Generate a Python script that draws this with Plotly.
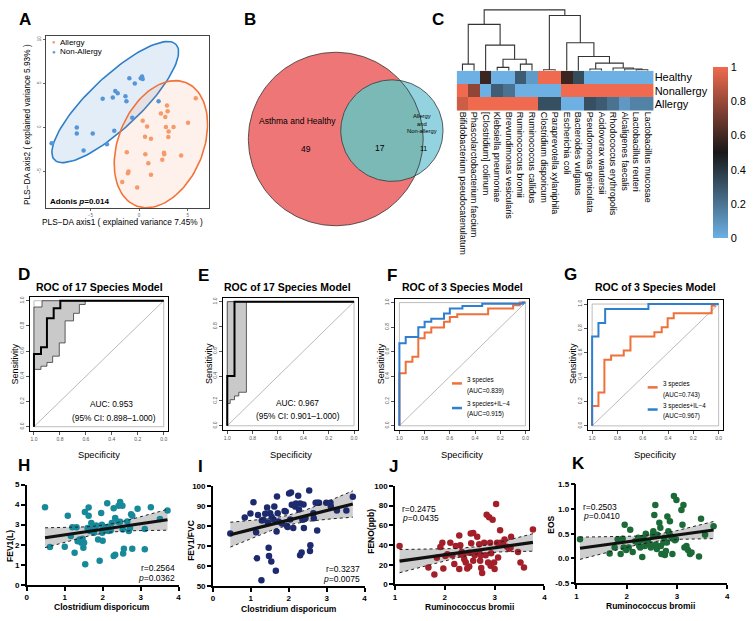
import numpy as np
import plotly.graph_objects as go

W, H = 753, 621
FONT = "Liberation Sans, Arial, Helvetica, sans-serif"

# ---------------- Panel A: PLS-DA scores ----------------
allergy_x = [5.82, 2.86, 2.93, 2.24, 2.69, 0.37, 0.82, 2.76, 3.54, 3.03, 0.61, 1.22, 3.00, 5.03,
             -1.26, 0.64, 2.55, 2.58, 2.38, 4.32, 0.95, -1.09, -1.15, 1.22, -1.73, -0.20]
allergy_y = [3.33, 2.50, 1.85, 1.60, 1.19, 0.78, 0.11, 0.07, 0.07, -0.44, -1.04, -1.26, -1.07, 0.55,
             -2.80, -3.04, -2.85, -3.04, -3.67, -3.19, -4.07, -5.00, -5.19, -5.37, -6.19, -6.81]
nonallergy_x = [-8.98, -6.40, -6.40, -5.70, -4.76, -3.74, -3.30, -2.70, -2.55, -2.45, -2.20, -1.40,
                -1.30, -1.00, -0.70, -0.44, 0.17, 0.30, 0.37, 2.00]
nonallergy_y = [-1.78, 0.00, -0.67, -2.60, -0.67, 3.26, -1.90, 3.40, -0.37, 4.15, 3.90, 3.55,
                3.00, 5.60, 1.10, 5.00, 5.60, 5.80, 5.50, 3.00]
ellipse_groups = ["Non-Allergy", "Allergy"]
ellipse_center = [(-2.45, 2.89), (2.24, -1.89)]
ellipse_major = [(6.24, 6.56), (2.55, 7.00)]
ellipse_minor = [(1.84, -2.08), (4.06, -1.76)]

# ---------------- Panel B: Venn ----------------
venn_sets = ["Asthma and Healthy", "Allergy<br>and<br>Non-allergy"]
venn_counts = [49, 17, 11]

# ---------------- Panel C: heatmap ----------------
species = ["Bifidobacterium pseudocatenulatum", "Phascolarctobacterium faecium", "[Clostridium] colinum",
           "Klebsiella pneumoniae", "Brevundimonas vesicularis", "Ruminococcus bromii",
           "Ruminococcus callidus", "Clostridium disporicum", "Paraprevotella xylaniphila",
           "Escherichia coli", "Bacteroides vulgatus", "Pseudomonas geniculata", "Acidovorax wautersii",
           "Rhodococcus erythropolis", "Alcaligenes faecalis", "Lactobacillus reuteri",
           "Lactobacillus mucosae"]
groups = ["Healthy", "Nonallergy", "Allergy"]
heat_healthy = [0, 0, 0.58, 0, 0, 0.28, 0.07, 1, 1, 0.58, 0.33, 0, 0, 0, 0, 0, 0]
heat_nonallergy = [1, 0.78, 0, 0.27, 0.2, 0, 0, 0, 0, 1, 1, 1, 1, 1, 1, 1, 1]
heat_allergy = [0.92, 1, 1, 1, 1, 1, 1, 0.32, 0.32, 0, 0, 0.32, 0.28, 0.2, 0.08, 0.15, 0.15]
# hierarchical clustering of columns: (child a, child b, height); new cluster ids start at 17
dendro_merges = [
    (0, 1, 6.7), (3, 4, 3.4), (5, 6, 6.7), (18, 19, 11.7), (2, 20, 26.0), (17, 21, 47.0),
    (7, 8, 1.0), (15, 16, 1.0), (14, 24, 1.7), (13, 25, 2.7), (11, 12, 1.7), (27, 26, 7.7),
    (10, 28, 14.4), (9, 29, 28.4), (23, 30, 56.0), (22, 31, 61.7),
]

# ---------------- Panels D-G: ROC curves (specificity, sensitivity) ----------------
roc_d_spec = [1, 1, 0.946, 0.90, 0.848, 0.797, 0]
roc_d_sens = [0, 0.578, 0.63, 0.86, 0.94, 1.0, 1.0]
roc_d_hi_spec = [1, 1, 0.938, 0]
roc_d_hi_sens = [0, 0.95, 1.0, 1.0]
roc_d_lo_spec = [1, 1, 0.946, 0.90, 0.856, 0.805, 0.76, 0.695, 0.65, 0.605, 0]
roc_d_lo_sens = [0, 0.455, 0.48, 0.51, 0.56, 0.665, 0.84, 0.90, 0.97, 1.0, 1.0]

roc_e_spec = [1, 1, 0.943, 0]
roc_e_sens = [0, 0.40, 1.0, 1.0]
roc_e_hi_spec = [1, 1, 0]
roc_e_hi_sens = [0, 1.0, 1.0]
roc_e_lo_spec = [1, 1, 0.977, 0.943, 0.909, 0.849, 0.849, 0]
roc_e_lo_sens = [0, 0.18, 0.21, 0.24, 0.27, 0.29, 1.0, 1.0]

roc_f_sp_spec = [1, 1, 0.95, 0.897, 0.85, 0.80, 0.747, 0.646, 0.6, 0.541, 0.296, 0.098, 0.045, 0]
roc_f_sp_sens = [0, 0.427, 0.52, 0.56, 0.71, 0.758, 0.798, 0.844, 0.884, 0.906, 0.952, 0.978, 1.0, 1.0]
roc_f_il_spec = [1, 1, 0.95, 0.85, 0.80, 0.747, 0.646, 0.6, 0.5, 0.343, 0.02, 0]
roc_f_il_sens = [0, 0.67, 0.72, 0.80, 0.844, 0.868, 0.911, 0.952, 0.973, 0.99, 1.0, 1.0]

roc_g_sp_spec = [1, 1, 0.95, 0.903, 0.85, 0.75, 0.697, 0.508, 0.45, 0.403, 0.355, 0.055, 0.03, 0]
roc_g_sp_sens = [0, 0.162, 0.273, 0.543, 0.578, 0.619, 0.733, 0.769, 0.81, 0.883, 0.924, 0.986, 1.0, 1.0]
roc_g_il_spec = [1, 1, 0.95, 0.897, 0.555, 0]
roc_g_il_sens = [0, 0.733, 0.845, 0.959, 1.0, 1.0]

# ---------------- Panels H-K: correlations ----------------
h_x = [0.48, 0.61, 1.08, 1.00, 1.16, 1.20, 1.26, 1.31, 1.34, 1.39, 1.44, 1.47, 1.49, 1.51, 1.54, 1.53,
       1.63, 1.63, 1.60, 1.66, 1.70, 1.72, 1.74, 1.77, 1.79, 1.83, 1.88, 1.92, 1.96, 1.98, 2.00, 1.99,
       2.00, 2.12, 2.14, 2.15, 2.21, 2.24, 2.29, 2.33, 2.29, 2.33, 2.42, 2.46, 2.52, 2.40, 2.46, 2.53,
       2.56, 2.54, 2.65, 2.69, 2.72, 2.75, 2.78, 2.78, 2.92, 3.27, 3.11, 3.11, 3.51, 3.71]
h_y = [3.87, 1.88, 3.45, 1.90, 2.43, 2.87, 1.60, 2.87, 2.17, 2.26, 2.10, 2.30, 1.85, 2.10, 1.03, 3.63,
       3.86, 3.45, 2.84, 2.68, 3.08, 2.92, 2.76, 2.60, 2.84, 2.96, 2.26, 1.20, 3.58, 3.00, 2.81, 2.60,
       2.20, 4.07, 2.90, 2.68, 2.71, 3.08, 3.82, 3.33, 1.44, 1.50, 3.95, 4.13, 3.94, 3.15, 3.15, 2.76,
       1.80, 1.56, 3.16, 2.68, 2.84, 3.52, 3.45, 1.80, 3.79, 3.87, 1.77, 2.79, 3.28, 3.71]

i_x = [0.46, 0.84, 0.99, 1.07, 1.14, 1.16, 1.28, 1.19, 1.29, 1.33, 1.38, 1.43, 1.45, 1.47, 1.48, 1.51,
       1.54, 1.55, 1.60, 1.62, 1.66, 1.68, 1.69, 1.71, 1.73, 1.82, 1.89, 1.92, 1.95, 1.97, 2.01, 2.06,
       2.04, 2.08, 2.12, 2.17, 2.19, 2.25, 2.27, 2.30, 2.30, 2.34, 2.36, 2.39, 2.40, 2.44, 2.54, 2.56,
       2.57, 2.65, 2.66, 2.71, 2.76, 2.80, 2.75, 2.99, 3.10, 3.11, 3.27, 3.52, 3.69]
i_y = [76.3, 84.3, 86.4, 92.0, 77.0, 63.9, 53.0, 85.6, 82.9, 83.2, 86.2, 89.3, 81.9, 69.2, 65.1, 86.5,
       62.3, 84.6, 83.3, 89.8, 57.7, 77.4, 94.8, 86.5, 82.4, 81.3, 87.6, 87.3, 80.2, 79.6, 96.3, 96.9,
       83.3, 90.7, 79.1, 89.8, 91.4, 95.2, 88.4, 91.4, 65.5, 66.8, 83.2, 90.9, 79.1, 84.0, 97.9, 67.6,
       70.5, 86.5, 84.0, 91.7, 91.7, 91.7, 77.9, 91.7, 91.7, 89.8, 87.8, 87.8, 94.7]

j_x = [1.09, 1.67, 1.79, 1.84, 1.91, 1.95, 1.97, 2.01, 2.05, 2.11, 2.15, 2.19, 2.22, 2.29, 2.31, 2.29,
       2.32, 2.34, 2.37, 2.39, 2.42, 2.45, 2.49, 2.49, 2.52, 2.53, 2.57, 2.57, 2.60, 2.62, 2.65, 2.69,
       2.69, 2.71, 2.72, 2.73, 2.75, 2.79, 2.82, 2.84, 2.87, 2.89, 2.91, 2.92, 2.93, 2.96, 2.99, 3.00,
       3.03, 3.05, 3.07, 3.11, 3.12, 3.17, 3.20, 3.25, 3.29, 3.32, 3.33, 3.47, 3.52, 3.59, 3.77]
j_y = [39.0, 17.3, 10.0, 27.0, 38.0, 42.3, 16.3, 29.0, 30.7, 42.3, 29.7, 20.7, 39.0, 49.7, 39.7, 15.7,
       30.7, 33.0, 29.7, 25.7, 22.3, 16.3, 32.3, 18.3, 51.7, 41.7, 52.3, 24.0, 29.7, 32.3, 48.3, 40.7,
       32.3, 24.0, 29.7, 16.7, 11.7, 42.3, 29.7, 70.7, 22.3, 68.3, 42.3, 19.0, 31.7, 65.7, 22.3, 15.7,
       81.7, 42.3, 27.3, 55.0, 42.3, 42.3, 45.7, 38.3, 36.3, 37.3, 48.3, 33.0, 22.3, 17.3, 55.7]

k_x = [1.07, 1.66, 1.76, 1.82, 1.88, 1.92, 1.96, 1.94, 1.99, 2.04, 2.07, 2.12, 2.17, 2.21, 2.23, 2.25,
       2.27, 2.29, 2.31, 2.33, 2.36, 2.38, 2.40, 2.43, 2.46, 2.48, 2.52, 2.53, 2.55, 2.57, 2.58, 2.60,
       2.61, 2.65, 2.67, 2.68, 2.69, 2.73, 2.75, 2.76, 2.78, 2.80, 2.81, 2.83, 2.85, 2.86, 2.88, 2.91,
       2.92, 2.94, 2.96, 2.98, 2.99, 3.09, 3.11, 3.13, 3.15, 3.19, 3.22, 3.26, 3.29, 3.44, 3.48, 3.56, 3.73]
k_y = [0.39, 0.10, 0.22, 0.39, 0.09, 0.40, 0.68, 0.22, 0.17, 0.22, 0.58, 0.13, 0.35, 0.32, 0.42, 0.25,
       0.22, 0.37, 0.03, 0.42, 0.25, 0.50, 0.35, 0.32, 0.28, 0.22, 0.48, 0.55, 0.88, 1.08, 0.28, 0.19,
       0.48, 0.72, 0.62, 0.25, 0.09, 0.32, 0.42, 0.07, 0.15, 0.32, 0.85, 0.55, 0.50, 0.75, 0.45, 0.09,
       0.40, 1.26, 0.37, 0.39, 1.18, 0.98, 0.68, 1.08, 0.22, 0.25, 0.17, 0.09, 0.12, 0.04, 0.80, 0.48, 0.65]

corr_stats = {"H": ("0.2564", "0.0362"), "I": ("0.3237", "0.0075"),
              "J": ("0.2475", "0.0435"), "K": ("0.2503", "0.0410")}

# ======================= helpers =======================
def dx(a, b):
    return [a / W, b / W]


def dy(top, bot):
    return [1 - bot / H, 1 - top / H]


annotations = []
shapes = []


def ann(text, x, y, size, bold=False, xanchor="center", yanchor="middle", angle=0, color="black"):
    if bold:
        text = "<b>" + text + "</b>"
    annotations.append(dict(text=text, x=x / W, y=1 - y / H, xref="paper", yref="paper",
                            showarrow=False, textangle=angle, xanchor=xanchor, yanchor=yanchor,
                            font=dict(size=size, color=color, family=FONT), borderpad=0))


def steps(sx, sy):
    xs, ys = [sx[0]], [sy[0]]
    for i in range(1, len(sx)):
        xs += [sx[i], sx[i]]
        ys += [sy[i - 1], sy[i]]
    return xs, ys


fig = go.Figure()
layout = dict(width=W, height=H, margin=dict(l=0, r=0, t=0, b=0), paper_bgcolor="white",
              plot_bgcolor="rgba(0,0,0,0)", showlegend=False, font=dict(family=FONT, color="black"))


def set_axes(n, xa, ya):
    sfx = "" if n == 1 else str(n)
    xa = dict(xa, anchor="y" + sfx)
    ya = dict(ya, anchor="x" + sfx)
    layout["xaxis" + sfx] = xa
    layout["yaxis" + sfx] = ya
    return ("x" + sfx, "y" + sfx)


# ======================= Panel A =======================
ax, ay = set_axes(
    1,
    dict(domain=dx(44, 208), range=[-9.59, 7.14], showline=True, mirror=True, linecolor="#444",
         linewidth=1.2, ticks="outside", ticklen=2, tickwidth=0.6, tickcolor="#666",
         tickvals=[-5, 0, 5], tickfont=dict(size=4.5, color="#666"), showgrid=False, zeroline=False),
    dict(domain=dy(32, 207), range=[-9.14, 10.45], showline=True, mirror=True, linecolor="#444",
         linewidth=1.2, ticks="outside", ticklen=2, tickwidth=0.6, tickcolor="#666",
         tickvals=[-5, 0, 5, 10], tickangle=-90, tickfont=dict(size=4.5, color="#666"),
         showgrid=False, zeroline=False))
ell_line = ["#2C7FC8", "#F0733A"]
ell_fill = ["rgba(77,145,214,0.16)", "rgba(244,130,80,0.12)"]
t = np.linspace(0, 2 * np.pi, 120)
for i in range(2):
    cx, cy = ellipse_center[i]
    mx, my = ellipse_major[i]
    nx, ny = ellipse_minor[i]
    fig.add_trace(go.Scatter(x=cx + np.cos(t) * mx + np.sin(t) * nx, y=cy + np.cos(t) * my + np.sin(t) * ny,
                             mode="lines", fill="toself", fillcolor=ell_fill[i],
                             line=dict(color=ell_line[i], width=1.6), xaxis=ax, yaxis=ay,
                             name=ellipse_groups[i], hoverinfo="skip"))
fig.add_trace(go.Scatter(x=nonallergy_x, y=nonallergy_y, mode="markers", name="Non-Allergy",
                         marker=dict(size=4.5, color="#5596D8"), xaxis=ax, yaxis=ay))
fig.add_trace(go.Scatter(x=allergy_x, y=allergy_y, mode="markers", name="Allergy",
                         marker=dict(size=4.5, color="#F59A68"), xaxis=ax, yaxis=ay))
ann("<span style='color:#F59A68'>●</span>", 52, 39, 6)
ann("Allergy", 57, 39, 8, xanchor="left")
ann("<span style='color:#5596D8'>●</span>", 52, 48.5, 6)
ann("Non-Allergy", 57, 48.5, 8, xanchor="left")
ann("<b>Adonis <i>p</i>=0.014</b>", 47, 200, 8, xanchor="left")
ann("PLS\u2212DA axis2 ( explained variance 5.93% )", 25, 122, 8.3, angle=-90)
ann("PLS\u2212DA axis1 ( explained variance 7.45% )", 121, 221, 8.3)

# ======================= Panel B: Venn =======================
bx, by = set_axes(4, dict(domain=dx(230, 460), range=[230, 460], visible=False),
                  dict(domain=dy(35, 235), range=[235, 35], visible=False))
c1, r1 = np.array([336.0, 137.0]), 88.0
c2, r2 = np.array([392.5, 128.5]), 51.5
th = np.linspace(0, 2 * np.pi, 200)
for c, r, col in [(c1, r1, "#EF7676"), (c2, r2, "#93D3DF")]:
    fig.add_trace(go.Scatter(x=c[0] + r * np.cos(th), y=c[1] + r * np.sin(th), mode="lines",
                             fill="toself", fillcolor=col, line=dict(width=0), xaxis=bx, yaxis=by,
                             hoverinfo="skip"))
d = np.linalg.norm(c2 - c1)
u = (c2 - c1) / d
phi = np.arctan2(u[1], u[0])
a = (r1 ** 2 - r2 ** 2 + d ** 2) / (2 * d)
th1 = np.arccos(a / r1)
th2 = np.arccos((d - a) / r2)
arc1 = np.linspace(phi - th1, phi + th1, 80)
arc2 = np.linspace(phi + np.pi - th2, phi + np.pi + th2, 120)
lx = np.concatenate([c1[0] + r1 * np.cos(arc1), c2[0] + r2 * np.cos(arc2)])
ly = np.concatenate([c1[1] + r1 * np.sin(arc1), c2[1] + r2 * np.sin(arc2)])
fig.add_trace(go.Scatter(x=lx, y=ly, mode="lines", fill="toself", fillcolor="#7AB9B6",
                         line=dict(width=0), xaxis=bx, yaxis=by, hoverinfo="skip"))
for c, r in [(c1, r1), (c2, r2)]:
    fig.add_trace(go.Scatter(x=c[0] + r * np.cos(th), y=c[1] + r * np.sin(th), mode="lines",
                             line=dict(color="#333", width=0.8), xaxis=bx, yaxis=by, hoverinfo="skip"))
ann(venn_sets[0], 297, 119, 8.5)
ann(str(venn_counts[0]), 306, 147, 8.5)
ann(str(venn_counts[1]), 381, 146, 8.5)
ann(venn_sets[1], 423, 121, 5.8)
ann(str(venn_counts[2]), 424, 147, 7)

# ======================= Panel C: heatmap + dendrogram =======================
HM_L, HM_R, HM_T, HM_B = 457.7, 656.0, 67.7, 108.3
hx, hy = set_axes(
    2,
    dict(domain=dx(HM_L, HM_R), range=[-0.5, 16.5], tickvals=list(range(17)), ticktext=species,
         tickangle=90, tickfont=dict(size=9), ticks="", showline=False, showgrid=False, zeroline=False),
    dict(domain=dy(HM_T, HM_B), range=[2.5, -0.5], tickvals=[0, 1, 2], ticktext=groups, side="right",
         tickfont=dict(size=11), ticks="", showline=False, showgrid=False, zeroline=False))
fig.add_trace(go.Heatmap(
    z=[heat_healthy, heat_nonallergy, heat_allergy], x=list(range(17)), y=[0, 1, 2],
    zmin=0, zmax=1, xaxis=hx, yaxis=hy,
    colorscale=[[0, "#6CB0E4"], [0.5, "#181818"], [1, "#EF6A4E"]],
    colorbar=dict(x=716 / W, xanchor="left", y=1 - 64 / H, yanchor="top", len=(238 - 64) / H,
                  lenmode="fraction", thickness=15, thicknessmode="pixels", xpad=0, ypad=0,
                  tickvals=[0, 0.2, 0.4, 0.6, 0.8, 1], ticktext=["0", "0.2", "0.4", "0.6", "0.8", "1"],
                  tickfont=dict(size=11), ticks="", outlinewidth=0)))

dxax, dyax = set_axes(3, dict(domain=dx(HM_L, HM_R), range=[-0.5, 16.5], visible=False),
                      dict(domain=dy(4, HM_T), range=[0, HM_T - 4], visible=False))
node_x = {i: float(i) for i in range(17)}
node_h = {i: 0.0 for i in range(17)}
dxs, dys = [], []
for k, (p, q, hgt) in enumerate(dendro_merges):
    nid = 17 + k
    node_x[nid] = (node_x[p] + node_x[q]) / 2
    node_h[nid] = hgt
    dxs += [node_x[p], node_x[p], node_x[q], node_x[q], None]
    dys += [node_h[p], hgt, hgt, node_h[q], None]
fig.add_trace(go.Scatter(x=dxs, y=dys, mode="lines", line=dict(color="#333", width=1.1),
                         xaxis=dxax, yaxis=dyax, hoverinfo="skip", cliponaxis=False))

# ======================= Panels D-G: ROC =======================
ORANGE, BLUE = "#F0703A", "#2E7FD0"
roc_ticks = [1, 0.8, 0.6, 0.4, 0.2, 0]
roc_text = ["1.0", "0.8", "0.6", "0.4", "0.2", "0.0"]
roc_panels = [
    dict(n=5, box=(28, 167, 297, 433), tx=98, title="ROC of 17 Species Model",
         curves=[(roc_d_spec, roc_d_sens, "black", 2.0)],
         ci=((roc_d_hi_spec, roc_d_hi_sens), (roc_d_lo_spec, roc_d_lo_sens))),
    dict(n=6, box=(222.7, 358.5, 298, 432), tx=287, title="ROC of 17 Species Model",
         curves=[(roc_e_spec, roc_e_sens, "black", 2.0)],
         ci=((roc_e_hi_spec, roc_e_hi_sens), (roc_e_lo_spec, roc_e_lo_sens))),
    dict(n=7, box=(396, 531, 299, 432), tx=463.5, title="ROC of 3 Species Model",
         curves=[(roc_f_sp_spec, roc_f_sp_sens, ORANGE, 2.0), (roc_f_il_spec, roc_f_il_sens, BLUE, 2.0)],
         ci=None),
    dict(n=8, box=(590, 725.5, 300.5, 432), tx=657.5, title="ROC of 3 Species Model",
         curves=[(roc_g_sp_spec, roc_g_sp_sens, ORANGE, 2.0), (roc_g_il_spec, roc_g_il_sens, BLUE, 2.0)],
         ci=None),
]
for P in roc_panels:
    x0, x1, y0, y1 = P["box"]
    common = dict(showline=True, mirror=True, linecolor="black", linewidth=1.4, ticks="outside",
                  ticklen=3, tickwidth=0.6, tickcolor="#555", tickvals=roc_ticks, ticktext=roc_text,
                  tickfont=dict(size=5, color="#555"), showgrid=False, zeroline=False)
    rx, ry = set_axes(P["n"], dict(common, domain=dx(x0, x1), range=[1.032, -0.032]),
                      dict(common, domain=dy(y0, y1), range=[-0.032, 1.032], tickangle=-90))
    fig.add_trace(go.Scatter(x=[1, 0, 0, 1, 1], y=[0, 0, 1, 1, 0], mode="lines",
                             line=dict(color="#A0A0A0", width=0.7), xaxis=rx, yaxis=ry, hoverinfo="skip"))
    fig.add_trace(go.Scatter(x=[1, 0], y=[0, 1], mode="lines", line=dict(color="#A8A8A8", width=0.8),
                             xaxis=rx, yaxis=ry, hoverinfo="skip"))
    if P["ci"]:
        (hs, hv), (ls, lv) = P["ci"]
        ux, uy = steps(hs, hv)
        lx2, ly2 = steps(ls, lv)
        fig.add_trace(go.Scatter(x=ux + lx2[::-1], y=uy + ly2[::-1], mode="lines", fill="toself",
                                 fillcolor="#C9C9C9", line=dict(width=0), xaxis=rx, yaxis=ry,
                                 hoverinfo="skip"))
        for sx, sy in [(ux, uy), (lx2, ly2)]:
            fig.add_trace(go.Scatter(x=sx, y=sy, mode="lines", line=dict(color="#3a3a3a", width=0.8),
                                     xaxis=rx, yaxis=ry, hoverinfo="skip"))
    for sp, se, col, wd in P["curves"]:
        sx, sy = steps(sp, se)
        fig.add_trace(go.Scatter(x=sx, y=sy, mode="lines", line=dict(color=col, width=wd),
                                 xaxis=rx, yaxis=ry, cliponaxis=False))
    ann(P["title"], P["tx"], 286.7, 10.5, bold=True)
    ann("Sensitivity", x0 - 15, 365, 9, angle=-90)
    ann("Specificity", (x0 + x1) / 2, 457.5, 9.3)

ann("AUC: 0.953", 110, 406, 8.3)
ann("(95% CI: 0.898\u20131.000)", 113, 420.5, 8.3)
ann("AUC: 0.967", 297, 405, 8.3)
ann("(95% CI: 0.901\u20131.000)", 298, 418.5, 8.3)


def roc_legend(xl, y_or, y_bl, l1, l2, l3, l4):
    for yy, col in [(y_or, ORANGE), (y_bl, BLUE)]:
        shapes.append(dict(type="line", xref="paper", yref="paper", x0=xl / W, x1=(xl + 10) / W,
                           y0=1 - yy / H, y1=1 - yy / H, line=dict(color=col, width=2.5)))
    ann(l1, xl + 14, y_or - 3.5, 6.3, xanchor="left")
    ann(l2, xl + 14, y_or + 7.5, 6.3, xanchor="left")
    ann(l3, xl + 14, y_bl - 4, 6.3, xanchor="left")
    ann(l4, xl + 14, y_bl + 6.5, 6.3, xanchor="left")


roc_legend(453, 385, 410, "3 species", "(AUC=0.839)", "3 species+IL\u22124", "(AUC=0.915)")
roc_legend(650, 389, 411.5, "3 species", "(AUC=0.743)", "3 species+IL\u22124", "(AUC=0.967)")

# ======================= Panels H-K: correlations =======================
corr_panels = [
    dict(n=9, key="H", x=h_x, y=h_y, col="#18899A", xd=(25, 177.7), yd=(487.7, 589.3), xr=[0, 4],
         yr=[0, 5], xt=[0, 1, 2, 3, 4], yt=[0, 1, 2, 3, 4, 5], ytitle="FEV1(L)", ytx=8, yty=550,
         xtitle="Clostridium disporicum", xtx=101, stat=(175, 572.5, "right")),
    dict(n=10, key="I", x=i_x, y=i_y, col="#1E2A6E", xd=(212.3, 365), yd=(489.3, 590.7), xr=[0, 4],
         yr=[50, 100], xt=[0, 1, 2, 3, 4], yt=[50, 60, 70, 80, 90, 100], ytitle="FEV1/FVC", ytx=190,
         yty=544, xtitle="Clostridium disporicum", xtx=289, stat=(361, 573, "right")),
    dict(n=11, key="J", x=j_x, y=j_y, col="#A3202A", xd=(395.7, 546), yd=(489, 589), xr=[1, 4],
         yr=[0, 100], xt=[1, 2, 3, 4], yt=[0, 20, 40, 60, 80, 100], ytitle="FENO(ppb)", ytx=372,
         yty=535, xtitle="Ruminococcus bromii", xtx=471, stat=(402, 512, "left")),
    dict(n=12, key="K", x=k_x, y=k_y, col="#1B6A38", xd=(578.3, 730), yd=(487.3, 587.7), xr=[1, 4],
         yr=[-0.5, 1.5], xt=[1, 2, 3, 4], yt=[-0.5, 0.0, 0.5, 1.0, 1.5], ytitle="EOS", ytx=553,
         yty=528, xtitle="Ruminococcus bromii", xtx=653, stat=(584, 510, "left")),
]
for P in corr_panels:
    common = dict(showline=True, linecolor="black", linewidth=1.5, ticks="outside", ticklen=4,
                  tickwidth=1.5, tickcolor="black", tickfont=dict(size=8, weight="bold"),
                  showgrid=False, zeroline=False)
    ytext = [("%.1f" % v) if P["key"] == "K" else str(v) for v in P["yt"]]
    sx_, sy_ = set_axes(P["n"], dict(common, domain=dx(*P["xd"]), range=P["xr"], tickvals=P["xt"]),
                        dict(common, domain=dy(*P["yd"]), range=P["yr"], tickvals=P["yt"], ticktext=ytext))
    x = np.asarray(P["x"], float)
    y = np.asarray(P["y"], float)
    n = len(x)
    b1, b0 = np.polyfit(x, y, 1)
    s = np.sqrt(np.sum((y - (b0 + b1 * x)) ** 2) / (n - 2))
    sxx = np.sum((x - x.mean()) ** 2)
    gx = np.linspace(x.min(), x.max(), 80)
    gy = b0 + b1 * gx
    se = 1.998 * s * np.sqrt(1 / n + (gx - x.mean()) ** 2 / sxx)
    fig.add_trace(go.Scatter(x=np.concatenate([gx, gx[::-1]]), y=np.concatenate([gy + se, (gy - se)[::-1]]),
                             mode="lines", fill="toself", fillcolor="rgba(190,190,190,0.75)",
                             line=dict(width=0), xaxis=sx_, yaxis=sy_, hoverinfo="skip"))
    fig.add_trace(go.Scatter(x=x, y=y, mode="markers", marker=dict(size=6.5, color=P["col"]),
                             xaxis=sx_, yaxis=sy_))
    for band in (gy + se, gy - se):
        fig.add_trace(go.Scatter(x=gx, y=band, mode="lines", line=dict(color="#222", width=1, dash="dot"),
                                 xaxis=sx_, yaxis=sy_, hoverinfo="skip"))
    fig.add_trace(go.Scatter(x=gx, y=gy, mode="lines", line=dict(color="#111", width=3.2),
                             xaxis=sx_, yaxis=sy_, hoverinfo="skip"))
    r, p = corr_stats[P["key"]]
    stx, sty, anc = P["stat"]
    ann("r=" + r, stx, sty, 8.5, xanchor=anc)
    ann("<i>p</i>=" + p, stx, sty + 10, 8.5, xanchor=anc)
    ann(P["ytitle"], P["ytx"], P["yty"], 8.5, bold=True, angle=-90)
    ann(P["xtitle"], P["xtx"], P["yd"][1] + 23, 8.5, bold=True)

# ======================= panel letters =======================
for letter, lx_, ly_ in [("A", 23.5, 16), ("B", 250, 16), ("C", 439, 15.5), ("D", 22, 274),
                         ("E", 203, 275), ("F", 393, 275), ("G", 572.5, 274), ("H", 22, 468),
                         ("I", 200, 469), ("J", 394.5, 469), ("K", 580, 466)]:
    ann(letter, lx_, ly_, 17, bold=True)

layout["annotations"] = annotations
layout["shapes"] = shapes
fig.update_layout(**layout)
fig.write_html("out.html", config={"displayModeBar": False},
               post_script="document.body.style.margin='0px';document.body.style.overflow='hidden';")
